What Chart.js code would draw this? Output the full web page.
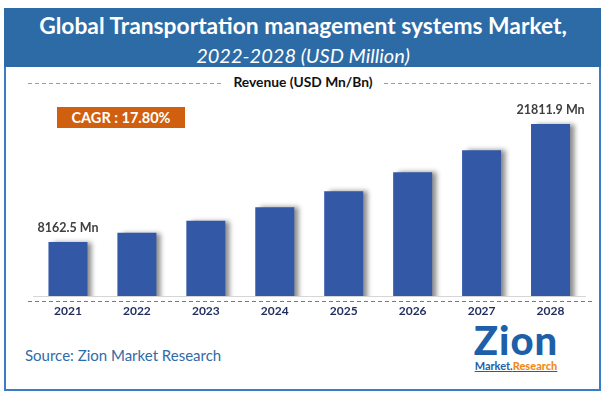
<!DOCTYPE html>
<html>
<head>
<meta charset="utf-8">
<script src="https://cdn.jsdelivr.net/npm/chart.js@4.4.1/dist/chart.umd.min.js"></script>
<style>
  body { margin: 0; background: #fff; }
  #wrap { position: relative; width: 606px; height: 405px; overflow: hidden; font-family: Lato, "Open Sans", sans-serif; }
  #frame { position: absolute; left: 4px; top: 8px; width: 597px; height: 383px; box-sizing: border-box; border: 2px solid #3b7dc4; }
  #band { position: absolute; left: 4px; top: 8px; width: 597px; height: 59px; background: #2d6ba6; }
  .t { position: absolute; left: 0; width: 606px; text-align: center; color: #fff; white-space: nowrap; }
  #title { top: 12px; line-height: 26px; font-size: 22.8px; font-weight: bold; }
  #subtitle { top: 43px; line-height: 24px; font-size: 20px; font-style: italic; }
  #rev { top: 74px; line-height: 16px; font-size: 13.8px; font-weight: bold; color: #111; }
  #cagr { position: absolute; left: 57px; top: 107px; width: 128px; height: 21px; background: #d0600f; color: #fff;
          font-size: 14.5px; font-weight: bold; line-height: 21px; text-align: center; }
  #source { position: absolute; left: 25px; top: 345px; font-size: 15px; color: #2f6ba8; line-height: 20px; }
  #logo { position: absolute; left: 468px; top: 320px; width: 96px; text-align: center; }
  #logo .big { font-size: 40px; font-weight: 900; color: #1d5fa8; letter-spacing: 1px; line-height: 40px; }
  #logo .small { font-size: 11px; font-weight: bold; line-height: 12px; text-decoration: underline; color: #1d5fa8; }
  #logo .small b { color: #f08a1c; }
  canvas { position: absolute; left: 0; top: 0; }
</style>
</head>
<body>
<div id="wrap">
  <div id="frame"></div>
  <div id="band"></div>
  <div class="t" id="title">Global Transportation management systems Market,</div>
  <div class="t" id="subtitle">2022-2028 (USD Million)</div>
  <div class="t" id="rev">Revenue (USD Mn/Bn)</div>
  <div id="cagr">CAGR : 17.80%</div>
  <div id="source">Source: Zion Market Research</div>
  <div id="logo">
    <div class="big">Zion</div>
    <div class="small">Market.<b>Research</b></div>
  </div>
  <canvas id="chart" width="606" height="405"></canvas>
</div>
<script>
// du lieu doc tu hinh
const years = ['2021', '2022', '2023', '2024', '2025', '2026', '2027', '2028'];
const revenue = [8162.5, 9240, 10630, 12180, 14030, 16220, 18770, 21811.9];
const unit = ' Mn';

// bong do cho cot + nhan gia tri + duong gach
const decor = {
    id: 'decor',
    beforeDatasetsDraw(chart) {
        const ctx = chart.ctx;
        ctx.save();
        ctx.shadowColor = 'rgba(0,0,0,0.45)';
        ctx.shadowOffsetX = 5;
        ctx.shadowOffsetY = 0;
        ctx.shadowBlur = 5;
    },
    afterDatasetsDraw(chart) {
        const ctx = chart.ctx;
        ctx.restore();
        const meta = chart.getDatasetMeta(0);
        ctx.save();
        ctx.font = 'bold 12.5px Lato';
        ctx.fillStyle = '#404040';
        ctx.textAlign = 'center';
        ctx.textBaseline = 'middle';
        [0, revenue.length - 1].forEach(function (i) {
            const bar = meta.data[i];
            ctx.fillText(revenue[i].toFixed(1) + unit, bar.x, bar.y - 14);
        });
        ctx.restore();
    },
    afterDraw(chart) {
        const ctx = chart.ctx;
        ctx.save();
        ctx.setLineDash([4, 3]);
        ctx.lineWidth = 1;
        ctx.strokeStyle = '#7fa3d6';
        ctx.beginPath();
        ctx.moveTo(28, 83.5); ctx.lineTo(222, 83.5);
        ctx.moveTo(384, 83.5); ctx.lineTo(592, 83.5);
        ctx.stroke();
        ctx.strokeStyle = '#4f83c8';
        ctx.beginPath();
        ctx.moveTo(28, 301.5); ctx.lineTo(592, 301.5);
        ctx.stroke();
        ctx.restore();
    }
};

const ctx = document.getElementById('chart').getContext('2d');
const chart = new Chart(ctx, {
    type: 'bar',
    data: {
        labels: years,
        datasets: [{
            data: revenue,
            backgroundColor: '#3358a6',
            borderWidth: 0,
            barPercentage: 0.566,
            categoryPercentage: 1
        }]
    },
    options: {
        responsive: false,
        animation: false,
        events: [],
        layout: { padding: { left: 33.5, right: 21, top: 100, bottom: 79 } },
        plugins: { legend: { display: false }, tooltip: { enabled: false } },
        scales: {
            x: {
                grid: { display: false, drawTicks: false },
                border: { display: true, color: '#d6d6d6', width: 1 },
                ticks: { color: '#1f2d5e', font: { family: 'Lato', size: 12, weight: 'bold' }, padding: 8 },
                afterFit: function (scale) { scale.height = 30; }
            },
            y: {
                display: false,
                min: 1916,
                max: 24588
            }
        }
    },
    plugins: [decor]
});
</script>
</body>
</html>
